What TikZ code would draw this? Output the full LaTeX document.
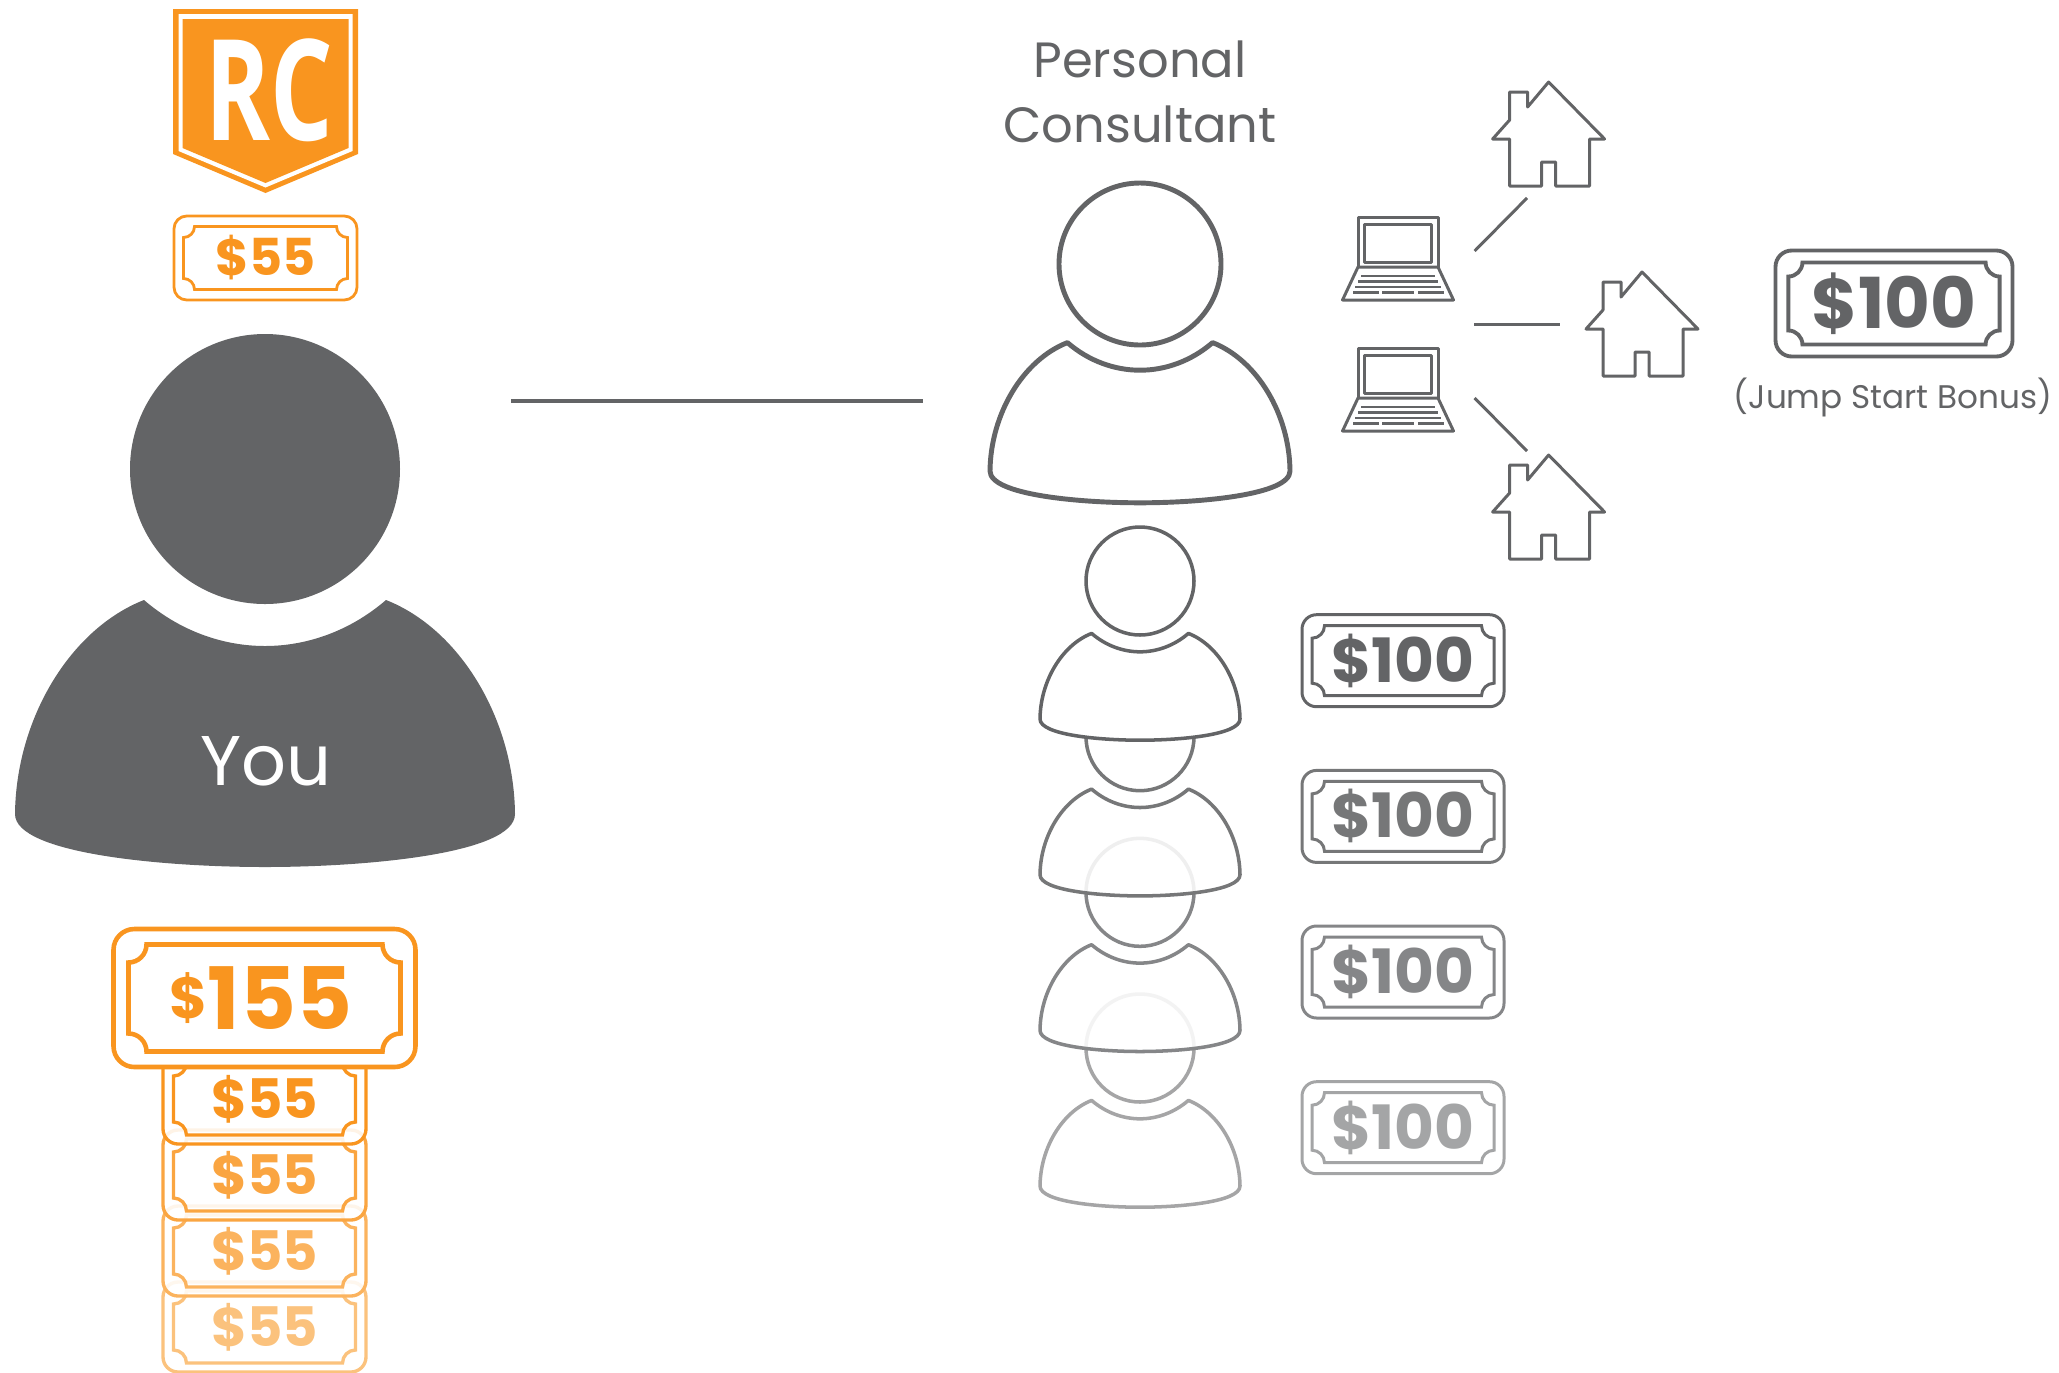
\documentclass[tikz,border=0pt]{standalone}
\usepackage{fontspec}
\setmainfont{Poppins}
\newfontfamily\shieldfont{Open Sans}
\definecolor{billorange}{HTML}{F9951F}
\definecolor{slate}{HTML}{636466}

\tikzset{
  pics/person/.style n args={3}{code={
    \path [draw=#1,fill=#2,fill opacity=#3] (0,0) circle (135);
    \path [draw=#1,fill=#2,fill opacity=#3,line join=round] (-121,131)
      .. controls (-85,162) and (-42,177) .. (0,177)
      .. controls (42,177) and (85,162) .. (121,131)
      .. controls (195,160) and (249,250) .. (250,345)
      .. controls (250,385) and (100,398) .. (0,398)
      .. controls (-100,398) and (-250,385) .. (-250,345)
      .. controls (-249,250) and (-195,160) .. (-121,131) -- cycle;
  }},
  pics/moneybill/.style n args={8}{code={
    \draw [#6,fill=white,fill opacity=#7,rounded corners=#5*0.33] (-#1,-#2) rectangle (#1,#2);
    \draw [#6,line join=miter] (-#3+#5,-#4) -- (#3-#5,-#4)
      .. controls (#3-#5,-#4+0.55*#5) and (#3-0.55*#5,-#4+#5) .. (#3,-#4+#5) -- (#3,#4-#5)
      .. controls (#3-0.55*#5,#4-#5) and (#3-#5,#4-0.55*#5) .. (#3-#5,#4) -- (-#3+#5,#4)
      .. controls (-#3+#5,#4-0.55*#5) and (-#3+0.55*#5,#4-#5) .. (-#3,#4-#5) -- (-#3,-#4+#5)
      .. controls (-#3+0.55*#5,-#4+#5) and (-#3+#5,-#4+0.55*#5) .. (-#3+#5,-#4) -- cycle;
    \node [text=#6,font=\bfseries] (-amount) at (0,0) {#8};
  }},
  pics/house/.style={code={
    \draw [slate,line width=0.85pt,line join=round] (0,0) -- (56,57) -- (41,57) -- (41,104)
      -- (7,104) -- (7,80) -- (-7,80) -- (-7,104) -- (-39,104) -- (-39,57) -- (-56,57)
      -- (-39,38) -- (-39,10) -- (-21,10) -- (-21,25) -- cycle;
  }},
  pics/laptop/.style={code={
    \draw [slate,line width=0.85pt,line join=round] (-40,50) -- (-40,0) -- (40,0) -- (40,50);
    \draw [slate,line width=0.85pt,line join=round] (-33.5,7) rectangle (33.5,45);
    \draw [slate,line width=0.85pt,line join=round] (-40,50) -- (40,50) -- (55.5,83) -- (-55.5,83) -- cycle;
    \draw [slate,line width=0.7pt] (-37,59) -- (37,59);
    \draw [slate,line width=0.7pt] (-40,64.5) -- (40,64.5);
    \draw [slate,line width=0.7pt] (-43,70) -- (43,70);
    \draw [slate,line width=0.7pt] (-45,75.5) -- (-19,75.5);
    \draw [slate,line width=0.7pt] (-16,75.5) -- (16,75.5);
    \draw [slate,line width=0.7pt] (20,75.5) -- (46,75.5);
  }},
  linkline/.style={slate,line width=0.85pt}
}

\begin{document}
\begin{tikzpicture}[x=0.1mm,y=-0.1mm]
      \useasboundingbox (0,0) rectangle (2059,1372);

      \fill [billorange] (173,9) -- (358,9) -- (358,154) -- (265.5,193) -- (173,154) -- cycle;
      \fill [white] (178.5,14) -- (352.5,14) -- (352.5,151) -- (265.5,187.5) -- (178.5,151) -- cycle;
      \fill [billorange] (182.5,19) -- (348.5,19) -- (348.5,148) -- (265.5,183) -- (182.5,148) -- cycle;
      \node [text=white,font=\shieldfont\bfseries\fontsize{40pt}{42pt}\selectfont,xscale=0.7] (shield) at (269,90) {RC};

      \pic (topbill) [line width=0.8pt] at (265.5,258)
        {moneybill={91.5}{42}{82}{31.5}{11}{billorange}{1}{\fontsize{14.5pt}{16pt}\selectfont\$55}};

      \pic (you) at (265,469) {person={none}{slate}{1}};
      \node [text=white,font=\fontsize{20pt}{24pt}\selectfont] (youlabel) at (266,761) {You};

      \foreach \n/\y/\s in {4/1327/58,3/1251/72,2/1175/85,1/1099/100}
        \pic (stack\n) [line width=0.95pt] at (264.5,\y)
          {moneybill={101.5}{45}{91}{36}{13}{billorange!\s}{0.87}{\fontsize{15.5pt}{17pt}\selectfont\$55}};
      \pic (bigbill) [line width=1.3pt] at (264.5,998)
        {moneybill={151}{69}{136}{53.5}{18}{billorange}{1}{\raisebox{-1.1pt}{\raisebox{3.2pt}{\fontsize{16.5pt}{18pt}\selectfont\$}\fontsize{24.5pt}{28pt}\selectfont 155\kern2pt}}};

      \coordinate (linestart) at (511,401);
      \coordinate (lineend) at (923,401);
      \draw [slate,line width=1pt] (linestart) -- (lineend);

      \node [text=slate,align=center,font=\fontsize{14.1pt}{18.3pt}\selectfont] (consultant) at (1140,92) {Personal\\Consultant};
      \pic (main) [scale=0.6,line width=1.4pt] at (1140,264) {person={slate}{white}{1}};

      \foreach \n/\y/\s/\o in {4/1048/58/1,3/892.3/78/0.87,2/736.7/88/0.87,1/581/100/1}
      {
        \pic (recruit\n) [scale=0.4,line width=1pt] at (1140,\y) {person={slate!\s}{white}{\o}};
        \pic (bonus\n) [line width=0.85pt] at (1403,\y+79.7)
          {moneybill={101}{46}{91}{35}{12.5}{slate!\s}{1}{\fontsize{17.4pt}{19pt}\selectfont\$100}};
      }

      \pic (laptopa) at (1398,217) {laptop};
      \pic (laptopb) at (1398,348) {laptop};
      \pic (housea) at (1548.6,82) {house};
      \pic (houseb) at (1642,272) {house};
      \pic (housec) at (1548.6,455) {house};

      \coordinate (linkas) at (1474.6,251);
      \coordinate (linkae) at (1527,198);
      \coordinate (linkbs) at (1474,324);
      \coordinate (linkbe) at (1560,324);
      \coordinate (linkcs) at (1474.6,398);
      \coordinate (linkce) at (1527,451);
      \draw [linkline] (linkas) -- (linkae);
      \draw [linkline] (linkbs) -- (linkbe);
      \draw [linkline] (linkcs) -- (linkce);

      \pic (jumpbill) [line width=1.1pt] at (1894,303.5)
        {moneybill={118.5}{53}{105.6}{41}{14}{slate}{1}{\fontsize{20pt}{22pt}\selectfont\$100}};
      \node [text=slate,font=\fontsize{9.3pt}{11pt}\selectfont] (jumplabel) at (1893,397) {(Jump Start Bonus)};
    \end{tikzpicture}
\end{document}
